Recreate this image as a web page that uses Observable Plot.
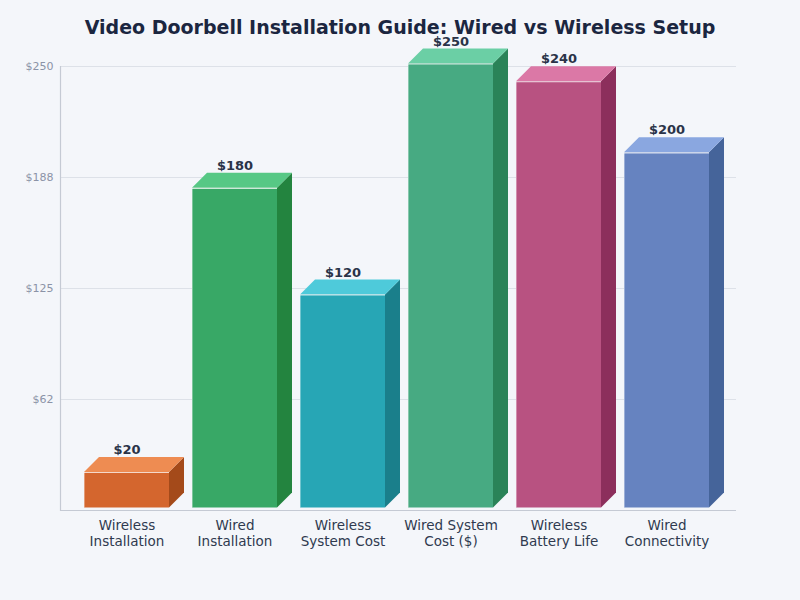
<!DOCTYPE html>
<html>
<head>
<meta charset="utf-8">
<script src="https://cdn.jsdelivr.net/npm/d3@7"></script>
<script src="https://cdn.jsdelivr.net/npm/@observablehq/plot@0.6"></script>
<style>
  html, body { margin: 0; padding: 0; background: #f4f6fa; }
  body { width: 800px; height: 600px; overflow: hidden; font-family: "DejaVu Sans", sans-serif; position: relative; }
  #title { position: absolute; left: 0; top: 0; width: 800px; height: 54px; line-height: 54px; text-align: center; font-size: 19px; font-weight: bold; color: #1b2640; white-space: nowrap; z-index: 2; }
  #chart { position: absolute; left: 0; top: 0; }
</style>
</head>
<body>
<div id="chart"></div>
<div id="title">Video Doorbell Installation Guide: Wired vs Wireless Setup</div>
<script>
const categories = ["Wireless Installation", "Wired Installation", "Wireless System Cost", "Wired System Cost ($)", "Wireless Battery Life", "Wired Connectivity"];
const tickLabels = ["Wireless\nInstallation", "Wired\nInstallation", "Wireless\nSystem Cost", "Wired System\nCost ($)", "Wireless\nBattery Life", "Wired\nConnectivity"];
const values = [20, 180, 120, 250, 240, 200];
const frontColors = ["#d4662e", "#38a866", "#27a6b5", "#47aa82", "#b85281", "#6683c0"];
const topColors = ["#ee8c52", "#57c885", "#4ecada", "#6bcfa5", "#db78a6", "#8aa7e0"];
const sideColors = ["#a44a1a", "#23843f", "#1a7f8b", "#2a8358", "#8c2f5c", "#45649a"];
const yTicks = [62.5, 125, 187.5, 250];
const yTickLabels = ["$62", "$125", "$188", "$250"];

const data = categories.map((c, i) => ({cat: c, value: values[i], front: frontColors[i], top: topColors[i], side: sideColors[i]}));
const DEPTH = 15;
const LIFT = 2.5;

const chart = Plot.plot({
  width: 800,
  height: 600,
  marginTop: 66,
  marginBottom: 90,
  marginLeft: 60,
  marginRight: 64,
  style: {background: "transparent", fontFamily: "DejaVu Sans, sans-serif"},
  x: {domain: categories, range: [83, 711], paddingInner: 0.21, paddingOuter: 0},
  y: {domain: [0, 250]},
  marks: [
    Plot.ruleY(yTicks, {stroke: "#dde1e8", strokeWidth: 1}),
    Plot.ruleY([0], {stroke: "#c5cad4", strokeWidth: 1.2}),
    Plot.frame({anchor: "left", stroke: "#c5cad4", strokeWidth: 1.2}),
    Plot.axisY({ticks: yTicks, tickFormat: (d) => yTickLabels[yTicks.indexOf(d)], tickSize: 0, tickPadding: 7, fontSize: 11, color: "#8b93a7", label: null}),
    Plot.axisX({tickFormat: (d) => tickLabels[categories.indexOf(d)], tickSize: 0, tickPadding: 8, fontSize: 13.5, lineHeight: 1.17, color: "#2f3a4f", label: null}),
    Plot.barY(data, {
      x: "cat", y: "value", fill: "front",
      render(index, scales, values, dimensions, context, next) {
        const sx = scales.x, sy = scales.y;
        const bw = typeof sx.bandwidth === "function" ? sx.bandwidth() : sx.bandwidth;
        const g = d3.create("svg:g");
        for (const i of index) {
          const d = data[i];
          const x0 = sx(d.cat), x1 = x0 + bw, yb = sy(0) - LIFT, yt = sy(d.value) - LIFT;
          g.append("polygon")
            .attr("points", `${x1},${yb} ${x1 + DEPTH},${yb - DEPTH} ${x1 + DEPTH},${yt - DEPTH} ${x1},${yt}`)
            .attr("fill", d.side);
          g.append("polygon")
            .attr("points", `${x0},${yt} ${x0 + DEPTH},${yt - DEPTH} ${x1 + DEPTH},${yt - DEPTH} ${x1},${yt}`)
            .attr("fill", d.top);
          g.append("rect")
            .attr("x", x0).attr("y", yt).attr("width", bw).attr("height", yb - yt)
            .attr("fill", d.front);
          g.append("line")
            .attr("x1", x0).attr("x2", x1).attr("y1", yt + 0.5).attr("y2", yt + 0.5)
            .attr("stroke", "rgba(255,255,255,0.75)").attr("stroke-width", 1.2);
          g.append("line")
            .attr("x1", x0 + 0.5).attr("x2", x0 + 0.5).attr("y1", yt).attr("y2", yb)
            .attr("stroke", "rgba(255,255,255,0.35)").attr("stroke-width", 1);
        }
        return g.node();
      }
    }),
    Plot.text(data, {x: "cat", y: "value", text: (d) => "$" + d.value, dy: -25, fontSize: 13, fontWeight: "bold", fill: "#2a3348"})
  ]
});
document.getElementById("chart").appendChild(chart);
</script>
</body>
</html>
